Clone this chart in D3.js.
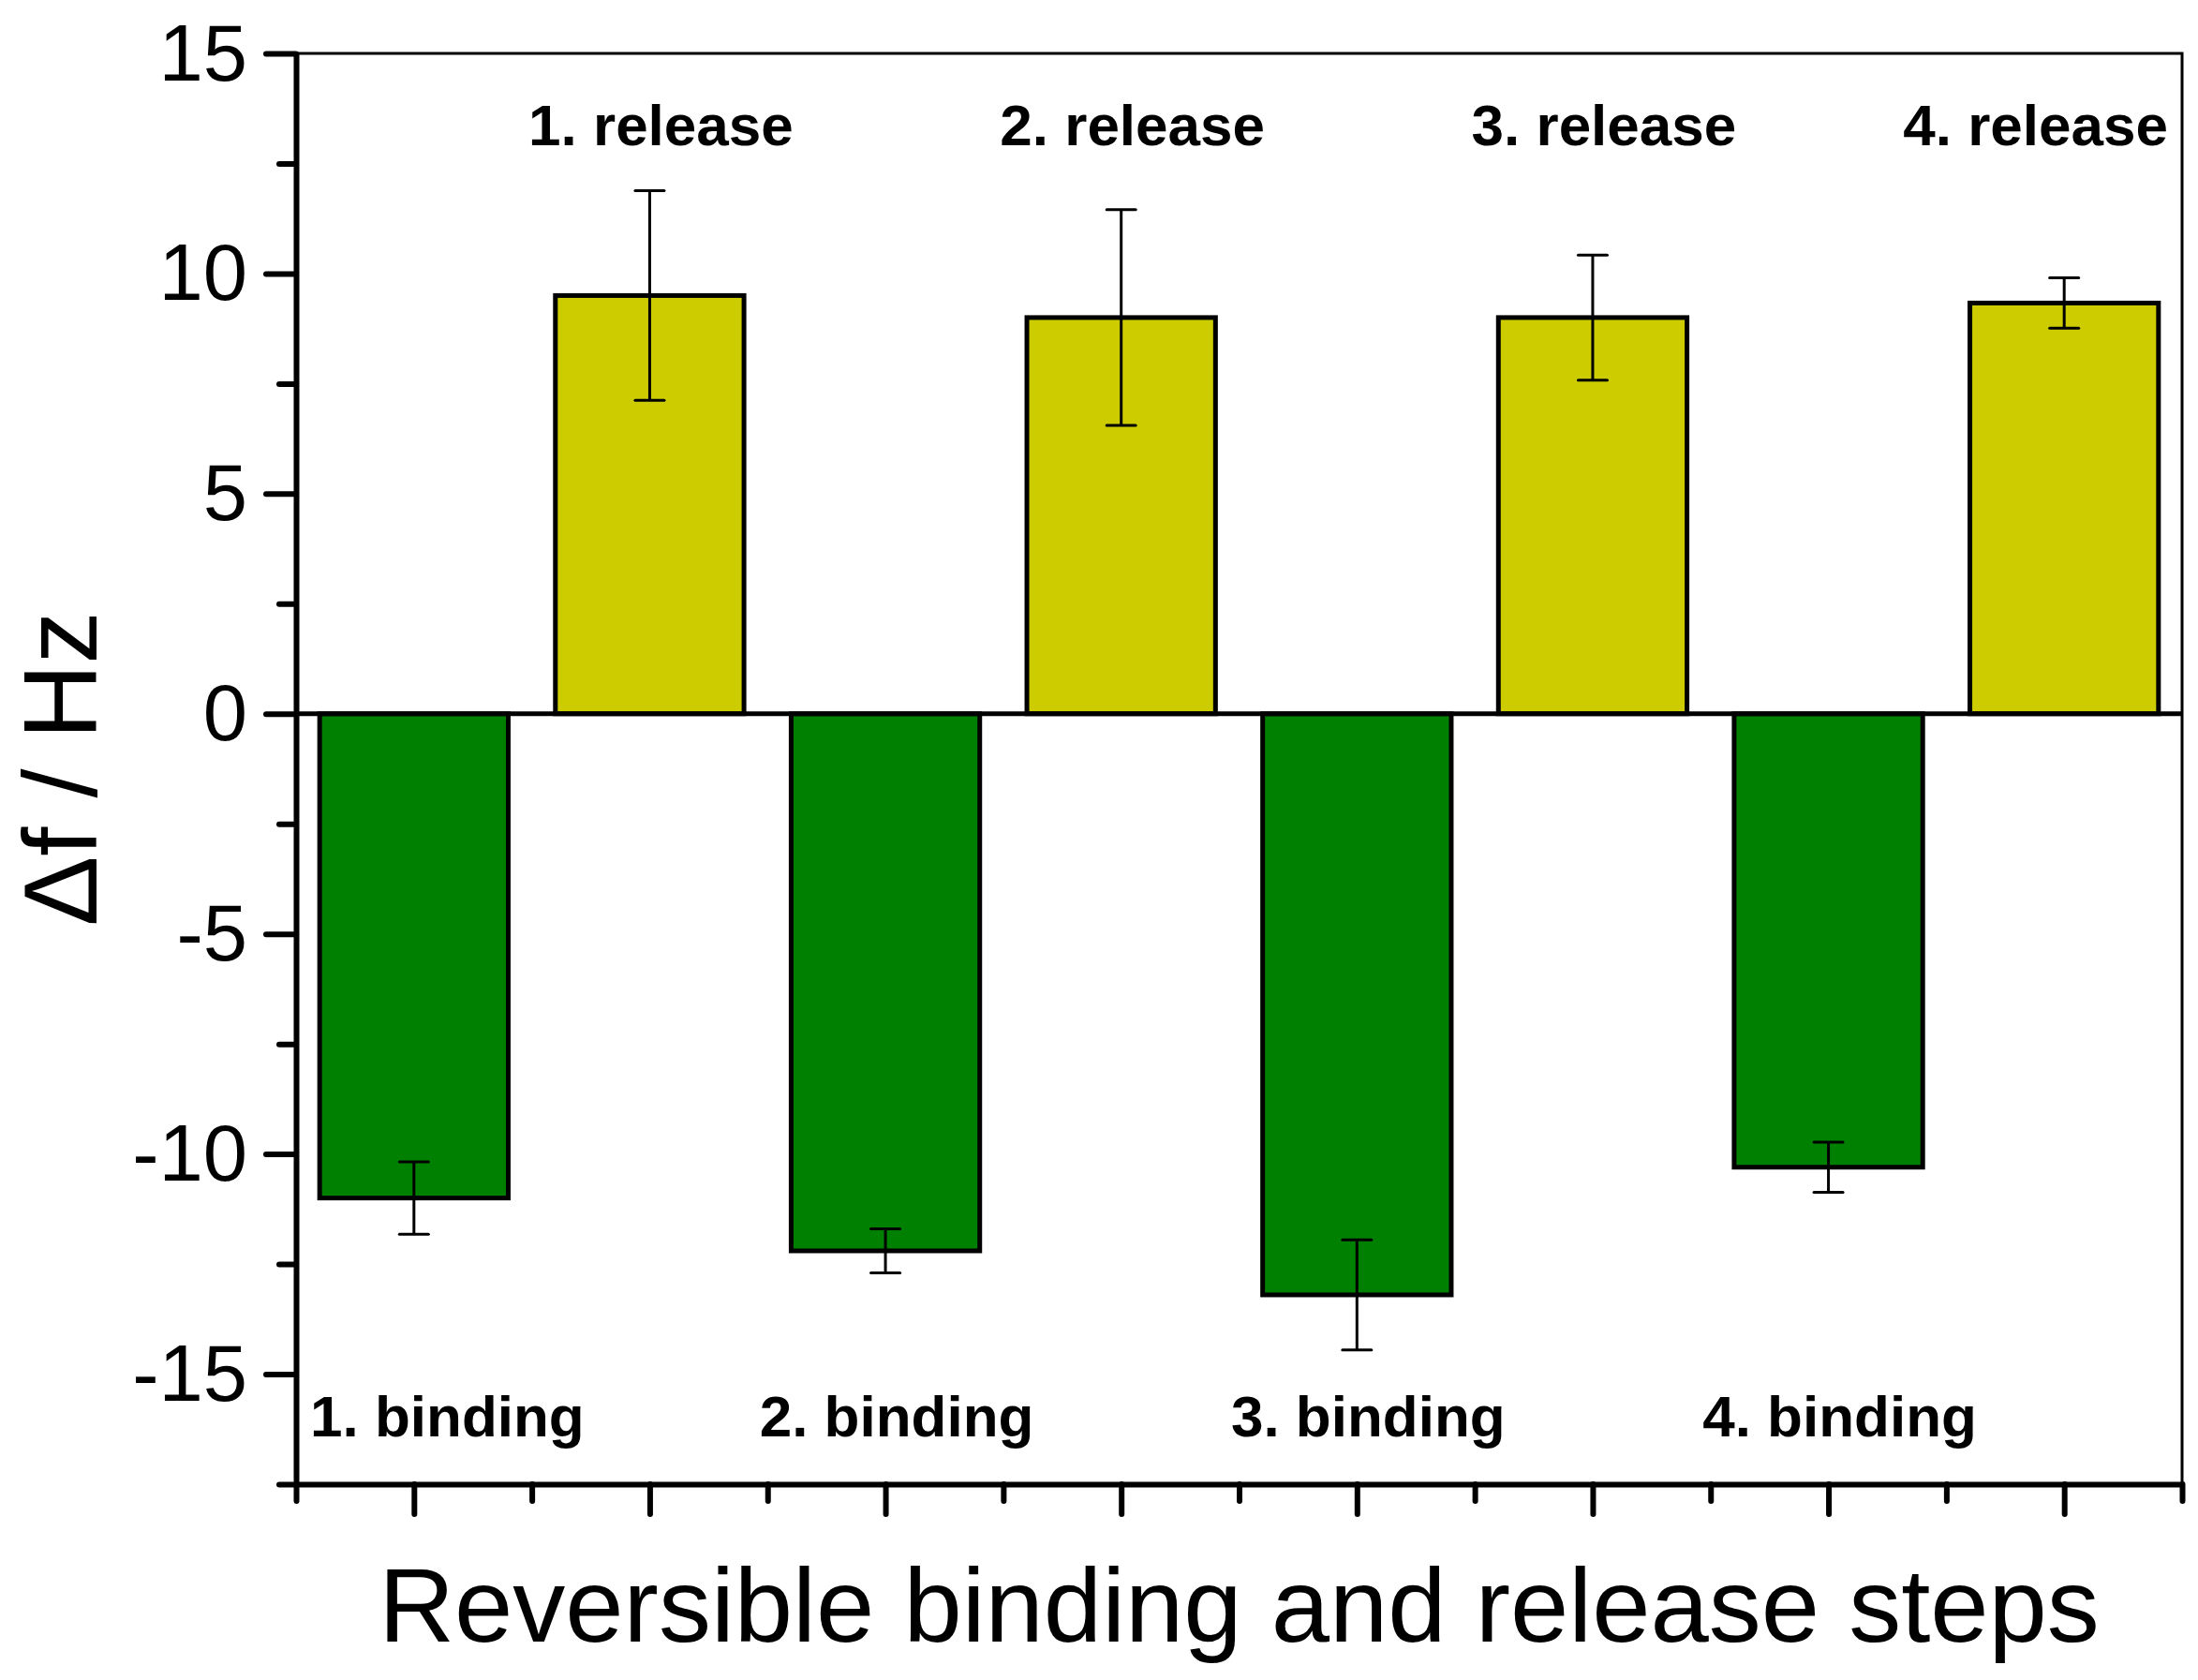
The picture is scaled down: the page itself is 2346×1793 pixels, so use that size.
<!DOCTYPE html>
<html lang="en">
<head>
  <meta charset="UTF-8" />
  <title>Reversible binding and release steps</title>
  <style>
    *{margin:0;padding:0;box-sizing:border-box}
    body{background:#fff}
    svg text{font-family:"Liberation Sans",Arial,sans-serif;fill:#000}
  </style>
</head>
<body>
  <div id="chart"></div>

  <script src="https://d3js.org/d3.v7.min.js"></script>
  <script>
    // data
    const steps        = [1, 2, 3, 4];
    const bindingVals  = [-11.0, -12.2, -13.2, -10.3];
    const bindingErr   = [0.82, 0.5, 1.25, 0.57];
    const releaseVals  = [9.5, 9.0, 9.0, 9.33];
    const releaseErr   = [2.38, 2.45, 1.42, 0.57];
    const yTicks       = [-15, -10, -5, 0, 5, 10, 15];
    const yMinorTicks  = [-17.5, -12.5, -7.5, -2.5, 2.5, 7.5, 12.5];
    const xTitle = 'Reversible binding and release steps';
    const yTitle = 'Δf / Hz';

    const colors = { binding:'#008000', release:'#cccc00' };

    const W = 2346, H = 1793;
    const m = { left:316, right:W-2329, top:57, bottom:H-1584 };

    const svg = d3.select('#chart').append('svg')
      .attr('width', W).attr('height', H)
      .attr('viewBox', [0, 0, W, H]);

    const x = d3.scaleLinear().domain([0.5, 8.5]).range([m.left, W - m.right]);
    const y = d3.scaleLinear().domain([-17.5, 15]).range([H - m.bottom, m.top]);
    const bw = (x(1) - x(0)) * 0.8;

    // one row per bar: binding at odd slots, release at even slots
    const bars = [];
    steps.forEach((s, i) => {
      bars.push({ kind:'binding', step:s, pos:2*s-1, v:bindingVals[i], e:bindingErr[i] });
      bars.push({ kind:'release', step:s, pos:2*s,   v:releaseVals[i], e:releaseErr[i] });
    });

    // top / right frame (thin)
    svg.append('path')
      .attr('d', `M${x(0.5)},${y(15)}H${x(8.5)}V${y(-17.5)}`)
      .attr('fill', 'none').attr('stroke', '#000').attr('stroke-width', 3);

    // bars
    svg.append('g').selectAll('rect')
      .data(bars)
      .join('rect')
      .attr('x', d => x(d.pos) - bw/2)
      .attr('width', bw)
      .attr('y', d => y(Math.max(0, d.v)))
      .attr('height', d => Math.abs(y(d.v) - y(0)))
      .attr('fill', d => colors[d.kind])
      .attr('stroke', '#000').attr('stroke-width', 5);

    // zero line
    svg.append('line')
      .attr('x1', x(0.5)).attr('x2', x(8.5))
      .attr('y1', y(0)).attr('y2', y(0))
      .attr('stroke', '#000').attr('stroke-width', 5);

    // error bars
    const eb = svg.append('g').attr('stroke', '#000').attr('stroke-width', 3);
    eb.selectAll('.stem').data(bars).join('line')
      .attr('x1', d => x(d.pos)).attr('x2', d => x(d.pos))
      .attr('y1', d => y(d.v - d.e)).attr('y2', d => y(d.v + d.e));
    eb.selectAll('.cap').data(bars.flatMap(d => [d.v - d.e, d.v + d.e].map(v => ({ pos:d.pos, v }))))
      .join('line')
      .attr('x1', d => x(d.pos) - 15.5).attr('x2', d => x(d.pos) + 15.5)
      .attr('y1', d => y(d.v)).attr('y2', d => y(d.v))
      .attr('stroke-linecap', 'round');

    // y axis
    const gy = svg.append('g').attr('transform', `translate(${m.left},0)`);
    gy.call(d3.axisLeft(y).tickValues(yTicks).tickSize(32).tickPadding(20).tickSizeOuter(0)
      .tickFormat(d => String(d)));
    gy.append('g').call(d3.axisLeft(y).tickValues(yMinorTicks).tickSize(18).tickFormat('').tickSizeOuter(0))
      .select('.domain').remove();
    gy.selectAll('.domain').attr('stroke-width', 6);
    gy.selectAll('.tick line').attr('stroke-width', 6).attr('stroke-linecap', 'round');
    gy.selectAll('.tick text')
      .attr('font-size', 85).attr('dy', '0.33em')
      .style('font-family', '"Liberation Sans",Arial,sans-serif');

    // x axis
    const gx = svg.append('g').attr('transform', `translate(0,${H - m.bottom})`);
    gx.call(d3.axisBottom(x).tickValues(d3.range(1, 9)).tickSize(32).tickFormat('').tickSizeOuter(0));
    gx.append('g').call(d3.axisBottom(x).tickValues(d3.range(0.5, 9, 1)).tickSize(18).tickFormat('').tickSizeOuter(0))
      .select('.domain').remove();
    gx.selectAll('.domain').attr('stroke-width', 6);
    gx.selectAll('.tick line').attr('stroke-width', 6).attr('stroke-linecap', 'round');

    // step labels
    const pad = 15;
    const lbl = svg.append('g')
      .attr('font-weight', 'bold').attr('font-size', 62).attr('text-anchor', 'middle');
    lbl.selectAll('text')
      .data(bars)
      .join('text')
      .attr('y', d => d.kind === 'release' ? 155 : 1533)
      .attr('x', d => x(d.pos) + 12)
      .text(d => `${d.step}. ${d.kind}`)
      .each(function(d){
        const w = this.getComputedTextLength();
        let cx = x(d.pos) + 12;
        cx = Math.max(cx, x(0.5) + pad + w/2);
        cx = Math.min(cx, x(8.5) - pad - w/2);
        d3.select(this).attr('x', cx);
      });

    // axis titles
    svg.append('text')
      .attr('x', (x(0.5) + x(8.5)) / 2).attr('y', 1752)
      .attr('text-anchor', 'middle').attr('font-size', 112)
      .text(xTitle);

    svg.append('text')
      .attr('transform', `translate(103,${(y(15) + y(-17.5)) / 2}) rotate(-90)`)
      .attr('text-anchor', 'middle').attr('font-size', 112)
      .text(yTitle);
  </script>
</body>
</html>
